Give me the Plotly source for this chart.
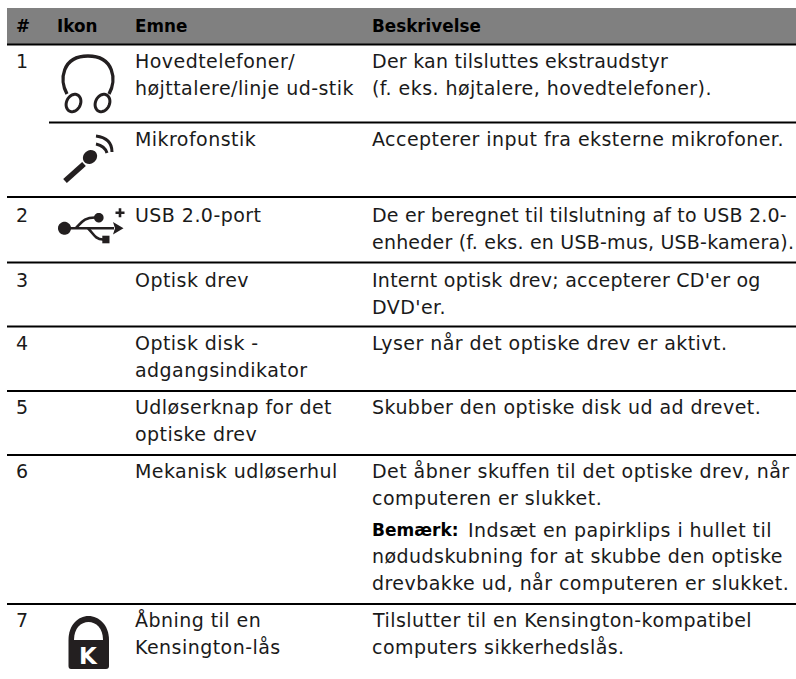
import math
import plotly.graph_objects as go

# ---- content ----
headers = ["#", "Ikon", "Emne", "Beskrivelse"]
numbers = ["1", "2", "3", "4", "5", "6", "7"]
topics = [
    ["Hovedtelefoner/", "højttalere/linje ud-stik"],
    ["Mikrofonstik"],
    ["USB 2.0-port"],
    ["Optisk drev"],
    ["Optisk disk -", "adgangsindikator"],
    ["Udløserknap for det", "optiske drev"],
    ["Mekanisk udløserhul"],
    ["Åbning til en", "Kensington-lås"],
]
descriptions = [
    ["Der kan tilsluttes ekstraudstyr", "(f. eks. højtalere, hovedtelefoner)."],
    ["Accepterer input fra eksterne mikrofoner."],
    ["De er beregnet til tilslutning af to USB 2.0-", "enheder (f. eks. en USB-mus, USB-kamera)."],
    ["Internt optisk drev; accepterer CD'er og", "DVD'er."],
    ["Lyser når det optiske drev er aktivt."],
    ["Skubber den optiske disk ud ad drevet."],
    ["Det åbner skuffen til det optiske drev, når", "computeren er slukket."],
    ["Tilslutter til en Kensington-kompatibel", "computers sikkerhedslås."],
]
note_label = "Bemærk:"
note = ["Indsæt en papirklips i hullet til",
        "nødudskubning for at skubbe den optiske",
        "drevbakke ud, når computeren er slukket."]

# ---- layout (pixel grid of the page) ----
W, H = 796, 679
FONT = "DejaVu Sans"
SIZE = 19
INK = "#1a1a1a"
col_x = [14.5, 56, 134, 371]
number_rows = [0, 2, 3, 4, 5, 6, 7]
row_base = [67, 145, 221, 286, 349, 413, 477, 626]
line_step = 26.7
note_base = [536, 562.5, 589]
rules = [(7, 197), (7, 262.5), (7, 326.5), (7, 391), (7, 455), (7, 604), (49, 122.5)]
OFFSET = 6.2

ann = []
shapes = []

def text(x, base, s, size=SIZE, bold=False, color=INK, anchor="left", fam=FONT):
    ann.append(dict(x=x, y=base - OFFSET * size / SIZE, text=f"<b>{s}</b>" if bold else s,
                    xref="x", yref="y", xanchor=anchor, yanchor="middle", showarrow=False,
                    align=anchor, borderpad=0, font=dict(family=fam, size=size, color=color)))

def path(d, fill=None, line=None, width=0):
    shapes.append(dict(type="path", path=d, xref="x", yref="y", layer="above",
                       fillcolor=fill or "rgba(0,0,0,0)",
                       line=dict(color=line or "rgba(0,0,0,0)", width=width)))

def ellipse(cx, cy, rx, ry, deg=0):
    t = math.radians(deg)
    pts = []
    for i in range(48):
        a = 2 * math.pi * i / 48
        x, y = rx * math.cos(a), ry * math.sin(a)
        pts.append((cx + x * math.cos(t) - y * math.sin(t), cy + x * math.sin(t) + y * math.cos(t)))
    return "M " + " L ".join(f"{px:.2f},{py:.2f}" for px, py in pts) + " Z"

# header band
shapes.append(dict(type="rect", x0=7, x1=W, y0=8, y1=44, xref="x", yref="y",
                   fillcolor="#808080", line=dict(width=0), layer="below"))
shapes.append(dict(type="line", x0=7, x1=W, y0=44.5, y1=44.5, xref="x", yref="y",
                   line=dict(color="#000000", width=2)))
for x0, y in rules:
    shapes.append(dict(type="line", x0=x0, x1=W, y0=y, y1=y, xref="x", yref="y",
                       line=dict(color="#000000", width=2)))

for x, h in zip(col_x, headers):
    text(x, 31, h, size=16.8, bold=True, color="#000000")
for n, r in zip(numbers, number_rows):
    text(col_x[0], row_base[r], n)
for r, lines in enumerate(topics):
    for i, s in enumerate(lines):
        text(col_x[2], row_base[r] + i * line_step, s)
for r, lines in enumerate(descriptions):
    for i, s in enumerate(lines):
        text(col_x[3], row_base[r] + i * line_step, s)
text(col_x[3], note_base[0], note_label, size=17, bold=True, color="#000000")
text(467, note_base[0], note[0])
for b, s in zip(note_base[1:], note[1:]):
    text(col_x[3], b, s)

# headphones icon
path("M 67,94 C 59,80 62,56 88,56 C 114,56 117,80 109,94", line="#231f20", width=3.4)
path(ellipse(73.5, 103, 7, 9, 25), line="#231f20", width=3)
path(ellipse(102.5, 103, 7, 9, 25), line="#231f20", width=3)

# microphone icon
path("M 65,181 L 84,164", line="#231f20", width=5.5)
path(ellipse(90, 157, 7.5, 6.5, -40), fill="#231f20")
path("M 96,144 Q 105,146 107,153", line="#231f20", width=3)
path("M 96,136 Q 112,138 112,152", line="#231f20", width=3)

# USB icon
path(ellipse(64.5, 228.3, 6.5, 6.5), fill="#231f20")
path("M 66,228.3 L 114,228.3", line="#231f20", width=2.6)
path("M 113,222 L 123.5,228.3 L 113,234.5 L 115,228.3 Z", fill="#231f20")
path("M 76,228 C 82,222 84,217.5 95,217.5", line="#231f20", width=2.6)
path(ellipse(98.8, 217.7, 4.8, 4.8), fill="#231f20")
path("M 88,228.3 C 93,233 95,239.5 103,239.5", line="#231f20", width=2.6)
path("M 102.3,235.7 L 109.5,235.7 L 109.5,243.3 L 102.3,243.3 Z", fill="#231f20")
path("M 115.5,212.7 L 124.5,212.7 M 120,208.2 L 120,217.2", line="#231f20", width=2.6)

# Kensington lock icon
path("M 68.5,640 C 68.5,625 78,616 88.5,616 C 99,616 109,625 109,640 L 109,666 "
     "Q 109,669 106,669 L 71,669 Q 68.5,669 68.5,666 Z", fill="#231f20")
path("M 74,640 C 74,628 81,622 88.5,622 C 96,622 103,628 103,640 Z", fill="#ffffff")
text(88.5, 663.5, "K", size=23, bold=True, color="#ffffff", anchor="center")

fig = go.Figure()
fig.update_layout(
    width=W, height=H, margin=dict(l=0, r=0, t=0, b=0),
    paper_bgcolor="#ffffff", plot_bgcolor="#ffffff", showlegend=False,
    xaxis=dict(range=[0, W], visible=False, fixedrange=True),
    yaxis=dict(range=[H, 0], visible=False, fixedrange=True),
    shapes=shapes, annotations=ann,
)
spacing_js = """
document.body.style.margin='0';
document.querySelectorAll('.annotation-text').forEach(function(t){
  var s = t.textContent;
  if (t.innerHTML.indexOf('font-weight') >= 0 || s === 'K') return;
  var sp = 0.45;
  if (s.indexOf('USB') >= 0 && s.length > 30) sp = 0.2;
  else if (s.indexOf("CD'er") >= 0 || s.indexOf('ekstraudstyr') >= 0) sp = 0.25;
  t.style.letterSpacing = sp + 'px';
});
"""
fig.write_html("out.html", post_script=spacing_js, config={"displayModeBar": False})
